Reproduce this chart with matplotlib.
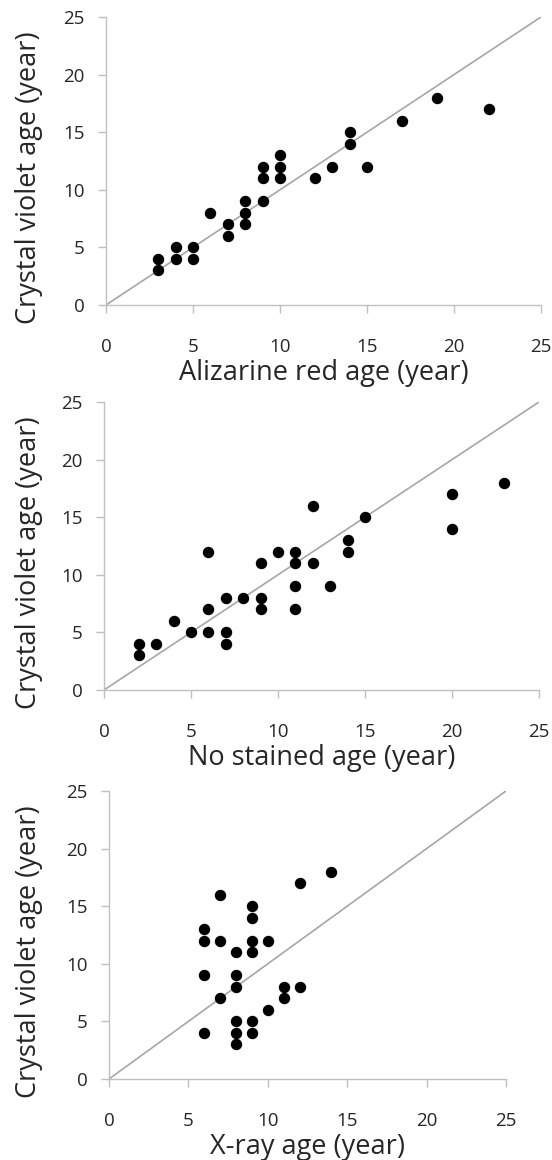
import matplotlib
matplotlib.use("Agg")
import matplotlib.pyplot as plt

plt.rcParams['font.family'] = ['Open Sans', 'DejaVu Sans']

# Panel 1: Alizarine red vs Crystal violet
alizarine_x = [3, 3, 4, 4, 5, 5, 6, 7, 7, 8, 8, 8, 9, 9, 9, 10, 10, 10, 12, 13, 14, 14, 15, 17, 19, 22]
alizarine_y = [4, 3, 5, 4, 5, 4, 8, 7, 6, 9, 8, 7, 12, 11, 9, 13, 12, 11, 11, 12, 14, 15, 12, 16, 18, 17]

# Panel 2: No stained vs Crystal violet
nostain_x = [2, 2, 3, 4, 5, 6, 6, 6, 7, 7, 7, 8, 9, 9, 9, 10, 11, 11, 11, 11, 12, 12, 13, 14, 14, 15, 20, 20, 23]
nostain_y = [4, 3, 4, 6, 5, 12, 7, 5, 8, 5, 4, 8, 11, 8, 7, 12, 12, 11, 9, 7, 16, 11, 9, 13, 12, 15, 17, 14, 18]

# Panel 3: X-ray vs Crystal violet
xray_x = [6, 6, 6, 6, 7, 7, 7, 8, 8, 8, 8, 8, 8, 9, 9, 9, 9, 9, 9, 10, 10, 11, 11, 12, 12, 14]
xray_y = [13, 12, 9, 4, 16, 12, 7, 11, 9, 8, 5, 4, 3, 15, 14, 12, 11, 5, 4, 12, 6, 8, 7, 8, 17, 18]

ticks = [0, 5, 10, 15, 20, 25]
ylabel = "Crystal violet age (year)"
xlabels = ["Alizarine red age (year)", "No stained age (year)", "X-ray age (year)"]

W, H = 552, 1160
fig = plt.figure(figsize=(W / 100, H / 100), dpi=100)

# axes rectangles in pixels: left, right, top(y=25), bottom(y=0)
rects = [(106, 541, 17, 305), (104, 539, 402, 690), (109, 506, 791, 1079)]
data = [(alizarine_x, alizarine_y), (nostain_x, nostain_y), (xray_x, xray_y)]

axis_col = '#c0c0c0'
text_col = '#262626'
for (l, r, t, b), (xs, ys), xl in zip(rects, data, xlabels):
    ax = fig.add_axes([l / W, 1 - b / H, (r - l) / W, (b - t) / H])
    ax.set_xlim(0, 25)
    ax.set_ylim(0, 25)
    ax.plot([0, 25], [0, 25], color='#a6a6a6', lw=1.2, zorder=1)
    ax.scatter(xs, ys, s=52, color='black', zorder=3, clip_on=False)
    for sp in ['top', 'right']:
        ax.spines[sp].set_visible(False)
    for sp in ['left', 'bottom']:
        ax.spines[sp].set_color(axis_col)
        ax.spines[sp].set_linewidth(1.0)
    ax.set_xticks(ticks)
    ax.set_yticks(ticks)
    ax.tick_params(axis='both', colors=axis_col, length=5.5, width=1.0, labelcolor=text_col,
                   labelsize=13.5)
    ax.tick_params(axis='x', pad=18)
    ax.tick_params(axis='y', pad=10)
    # axis titles placed in pixel positions
    fig.text((l + r) / 2 / W, 1 - (b + 68) / H, xl, fontsize=19.5, color=text_col,
             ha='center', va='center')
    fig.text(29.5 / W, 1 - (t + 161) / H, ylabel, fontsize=19.5, color=text_col,
             ha='center', va='center', rotation=90)

fig.savefig("out.png", dpi=100)
